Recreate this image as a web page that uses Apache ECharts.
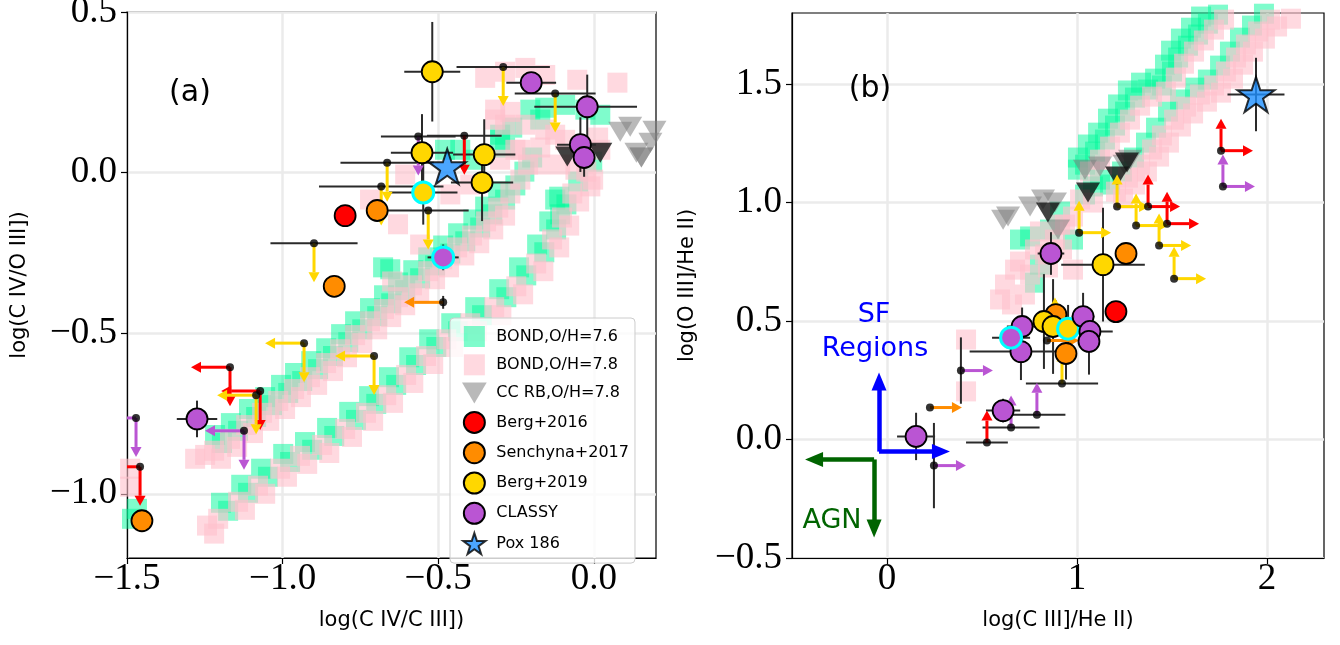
<!DOCTYPE html>
<html><head><meta charset="utf-8">
<script src="https://cdn.jsdelivr.net/npm/echarts@6/dist/echarts.min.js"></script>
<style>html,body{margin:0;padding:0;background:#fff}#c{width:1340px;height:645px}</style>
</head><body><div id="c"></div>
<script>
// ================= DATA =================
// ---- Panel (a): x = log(C IV/C III]), y = log(C IV/O III]) ----
const bond76A = [[-1.468,-1.047],[-1.484,-1.078],
 [-1.195,-0.842],[-1.143,-0.804],[-1.085,-0.761],[-1.034,-0.724],[-0.982,-0.686],[-0.937,-0.649],[-0.886,-0.612],[-0.838,-0.571],[-0.789,-0.528],[-0.744,-0.488],[-0.696,-0.447],[-0.651,-0.407],[-0.606,-0.366],[-0.558,-0.329],[-0.510,-0.289],[-0.461,-0.252],[-0.413,-0.214],[-0.365,-0.171],[-0.326,-0.130],[-0.285,-0.084],[-0.252,-0.040],[-0.223,0.003],[-0.198,0.047],[-0.301,0.102],[-0.262,0.140],[-0.429,0.071],[-0.478,0.071],[-0.204,0.196],[-0.156,0.202],[-0.092,0.211],[-0.027,0.196],[0.021,0.180],
 [-1.217,-0.817],[-1.166,-0.780],[-1.108,-0.736],[-1.056,-0.699],[-1.005,-0.661],[-0.960,-0.624],[-0.908,-0.587],[-0.860,-0.547],[-0.812,-0.503],[-0.767,-0.463],[-0.719,-0.422],[-0.674,-0.382],[-0.629,-0.342],[-0.580,-0.304],[-0.532,-0.264],[-0.484,-0.227],[-0.436,-0.189],[-0.387,-0.146],[-0.349,-0.106],[-0.307,-0.059],
 [-1.175,-1.053],[-1.111,-0.997],[-1.047,-0.947],[-0.976,-0.901],[-0.905,-0.863],[-0.834,-0.820],[-0.764,-0.770],[-0.699,-0.720],[-0.635,-0.661],[-0.571,-0.599],[-0.506,-0.543],[-0.436,-0.494],[-0.359,-0.444],[-0.281,-0.388],[-0.217,-0.320],[-0.159,-0.248],[-0.121,-0.177],[-0.088,-0.099],[-0.050,-0.028],[-0.005,0.034],
 [-1.198,-1.028],[-1.133,-0.972],[-1.069,-0.922],[-0.998,-0.876],[-0.928,-0.839],[-0.857,-0.795],[-0.786,-0.745],[-0.722,-0.696],[-0.658,-0.637],[-0.593,-0.575],[-0.529,-0.519],[-0.458,-0.469],[-0.381,-0.419],[-0.304,-0.363],[-0.240,-0.295],[-0.182,-0.224],[-0.143,-0.152],[-0.111,-0.075],
 [-0.677,-0.295],[-0.654,-0.301],[-0.301,0.118],[-0.285,0.078],[-0.124,-0.084],[-0.108,-0.130],[-0.381,0.040],[-0.172,0.165]];
const bond78A = [[-1.490,-0.922],[-1.490,-0.978],[-1.281,-0.891],[-1.249,-0.879],
 [-1.220,-0.866],[-1.169,-0.829],[-1.117,-0.786],[-1.066,-0.748],[-1.014,-0.711],[-0.963,-0.674],[-0.912,-0.637],[-0.860,-0.593],[-0.815,-0.550],[-0.767,-0.506],[-0.719,-0.463],[-0.674,-0.425],[-0.629,-0.388],[-0.584,-0.351],[-0.532,-0.307],[-0.487,-0.270],[-0.439,-0.233],[-0.391,-0.196],[-0.346,-0.152],[-0.307,-0.109],[-0.268,-0.065],[-0.236,-0.022],[-0.211,0.025],[-0.236,0.071],[-0.285,0.149],[-0.317,0.196],[-0.349,0.295],[-0.285,0.314],[-0.220,0.326],[-0.156,0.304],[-0.053,0.289],[0.076,0.280],[-0.124,0.118],[-0.172,0.078],
 [-1.198,-0.891],[-1.146,-0.854],[-1.095,-0.811],[-1.043,-0.773],[-0.992,-0.736],[-0.941,-0.699],[-0.889,-0.661],[-0.838,-0.618],[-0.793,-0.575],[-0.744,-0.531],[-0.696,-0.488],[-0.651,-0.450],[-0.606,-0.413],[-0.561,-0.376],[-0.510,-0.332],[-0.465,-0.295],[-0.416,-0.258],[-0.368,-0.220],[-0.323,-0.177],[-0.285,-0.134],
 [-1.243,-1.099],[-1.207,-1.078],[-1.143,-1.025],[-1.079,-0.975],[-1.008,-0.922],[-0.944,-0.882],[-0.873,-0.848],[-0.799,-0.798],[-0.732,-0.748],[-0.667,-0.693],[-0.603,-0.630],[-0.539,-0.571],[-0.474,-0.519],[-0.397,-0.469],[-0.320,-0.419],[-0.249,-0.354],[-0.185,-0.283],[-0.134,-0.208],[-0.102,-0.140],[-0.069,-0.065],[-0.024,0.003],[0.021,0.071],[0.014,0.109],
 [-1.220,-1.124],[-1.121,-1.050],[-1.056,-1.000],[-0.986,-0.947],[-0.921,-0.907],[-0.850,-0.873],[-0.777,-0.823],[-0.709,-0.773],[-0.645,-0.717],[-0.580,-0.655],[-0.516,-0.596],[-0.452,-0.543],[-0.375,-0.494],[-0.297,-0.444],[-0.227,-0.379],[-0.162,-0.307],[-0.111,-0.233],[-0.079,-0.165],[-0.047,-0.090],[-0.002,-0.022],
 [-0.719,-0.084],[-0.629,-0.161],[-0.648,-0.339],[-0.558,-0.224],[-0.461,-0.068],[-0.397,-0.037],[-0.011,-0.043],[-0.606,-0.006],
 [-0.317,0.165],[-0.268,0.189],[-0.220,0.149],[-0.156,0.134],[-0.092,0.102],[-0.043,0.071],[-0.301,0.040],[-0.252,0.071],[-0.108,0.025],[-0.059,0.009],[-0.172,0.025]];
const ccrbA = [[0.085,0.127],[0.117,0.143],[0.153,0.047],[0.153,0.047],[0.182,0.093],[0.137,0.062],[0.195,0.130]];
const ccrbDarkA = [[-0.085,0.050],[0.021,0.062]];
// observations: [x, y, xErrLo, xErrHi, yErrLo, yErrHi]
const berg16A = [[-0.799,-0.134,0,0,0,0]];
const sen17A = [[-0.696,-0.118,0,0,0,0],[-0.834,-0.354,0,0,0,0],[-1.452,-1.084,0,0,0,0]];
const berg19A = [[-0.519,0.314,0.09,0.09,0.155,0.155],[-0.552,0.062,0.1,0.1,0.12,0.12],[-0.352,0.056,0.1,0.1,0.11,0.11],[-0.359,-0.031,0.1,0.1,0.12,0.12]];
const berg19CyanA = [[-0.548,-0.062,0.11,0.11,0.1,0.1]];
const classyA = [[-0.201,0.280,0.08,0.08,0,0],[-0.021,0.205,0.17,0.16,0.1,0.1],[-0.043,0.087,0.075,0.05,0.085,0.085],[-0.031,0.047,0.03,0.03,0.06,0.06],[-1.275,-0.767,0.065,0.065,0.057,0.057]];
const classyCyanA = [[-0.484,-0.264,0.05,0.05,0.04,0.04]];
const pox186A = [[-0.471,0.019,0,0,0,0]];
// limits: [x, y, xErrLo, xErrHi, yErrLo, yErrHi, arrowDirX, arrowDirY]
const berg16LimA = [[-0.416,0.115,0.12,0.12,0,0,0,-1],[-1.169,-0.606,0,0,0,0,-1,-1],[-1.072,-0.680,0,0,0,0,-1,-1],[-1.458,-0.916,0,0,0,0,-1,-1]];
const sen17LimA = [[-0.484,-0.404,0,0,0.02,0.02,-1,0]];
const berg19LimA = [[-0.899,-0.220,0.14,0.14,0,0,0,-1],[-0.664,0.031,0.15,0.15,0,0,0,-1],[-0.683,-0.043,0.2,0.2,0,0,0,-1],[-0.532,-0.118,0.13,0.13,0,0,0,-1],[-0.291,0.329,0.15,0.15,0,0,0,-1],[-0.124,0.246,0.13,0.13,0,0,0,-1],[-0.931,-0.531,0,0,0,0,-1,-1],[-0.706,-0.571,0,0,0,0,-1,-1],[-1.085,-0.693,0,0,0,0,-1,-1]];
const classyLimA = [[-0.564,0.112,0.12,0.12,0,0,0,-1],[-1.124,-0.804,0,0,0,0,-1,-1],[-1.471,-0.764,0,0,0,0,-1,-1]];

// ---- Panel (b): x = log(C III]/He II), y = log(O III]/He II) ----
const bond76B = [[1.042,1.160],[1.095,1.215],[1.147,1.266],[1.200,1.325],[1.253,1.384],[1.305,1.443],[1.374,1.477],[1.447,1.494],[1.500,1.553],[1.532,1.612],[1.584,1.662],[1.637,1.709],[1.689,1.755],[1.742,1.793],
 [1.005,1.190],[1.058,1.245],[1.111,1.295],[1.163,1.354],[1.216,1.414],[1.268,1.473],[1.337,1.506],[1.411,1.523],[1.463,1.582],[1.495,1.641],[1.547,1.692],[1.600,1.738],[1.653,1.785],
 [1.174,1.076],[1.237,1.131],[1.300,1.190],[1.363,1.253],[1.416,1.316],[1.479,1.384],[1.542,1.435],[1.621,1.485],[1.689,1.519],[1.753,1.578],[1.805,1.637],[1.858,1.696],[1.921,1.747],[1.984,1.797],
 [0.753,0.857],[0.779,0.662],[0.979,0.844],[1.084,1.068],[0.700,0.844],[1.005,1.139],
 [0.805,0.738],[0.858,0.886],[0.911,0.962],[1.042,1.034],[1.121,1.097]];
const bond78B = [[1.068,1.131],[1.121,1.181],[1.174,1.236],[1.226,1.295],[1.279,1.350],[1.332,1.409],[1.395,1.447],[1.468,1.468],[1.521,1.527],[1.563,1.586],[1.616,1.637],[1.668,1.684],[1.721,1.730],[1.774,1.772],[1.816,1.806],
 [1.205,1.046],[1.268,1.105],[1.332,1.160],[1.395,1.224],[1.447,1.283],[1.511,1.350],[1.574,1.405],[1.647,1.456],[1.721,1.494],[1.784,1.553],[1.837,1.612],[1.889,1.667],[1.953,1.722],[2.016,1.772],[2.089,1.806],
 [1.242,1.017],[1.305,1.076],[1.368,1.131],[1.432,1.194],[1.484,1.253],[1.547,1.321],[1.611,1.376],[1.684,1.426],[1.758,1.464],[1.821,1.523],[1.874,1.582],[1.926,1.637],[1.989,1.692],[2.053,1.743],[2.126,1.776],
 [0.416,0.203],[0.416,0.422],[0.658,0.570],[0.726,0.612],[0.700,0.751],[0.779,0.802],[0.805,0.878],[0.921,0.802],[0.979,0.717],[0.979,0.941],[1.084,1.000],[0.847,0.726],[0.911,0.907],
 [0.621,0.654],[0.674,0.717],[0.753,0.696],[0.832,0.781],[0.884,0.844],[0.937,0.907],[1.016,1.013],[0.595,0.591]];
const ccrbB = [[0.611,0.928],[0.637,0.941],[0.753,0.983],[0.821,1.013],[0.900,0.886],[1.042,1.139],[1.121,1.152],[1.279,1.181],[0.884,1.000],[1.250,1.160]];
const ccrbDarkB = [[0.847,0.958],[1.058,1.042],[1.211,1.110],[1.263,1.169]];
const berg16B = [[1.205,0.540,0,0,0,0]];
const sen17B = [[1.258,0.785,0,0,0,0],[0.889,0.527,0,0,0.06,0.06],[0.942,0.363,0.05,0.05,0.11,0.11]];
const berg19B = [[1.137,0.738,0.22,0.22,0.24,0.24],[0.826,0.498,0.05,0.05,0.2,0.2],[0.874,0.477,0.05,0.05,0.2,0.2]];
const berg19CyanB = [[0.953,0.468,0.05,0.05,0.1,0.1]];
const classyB = [[0.153,0.013,0.1,0.1,0.1,0.1],[0.863,0.785,0.07,0.07,0.09,0.09],[0.711,0.477,0.08,0.08,0.08,0.08],[0.705,0.371,0.27,0.27,0.12,0.12],[1.032,0.519,0.06,0.06,0.1,0.1],[1.068,0.456,0.12,0.12,0.06,0.06],[1.063,0.414,0.05,0.05,0.14,0.14],[0.611,0.122,0.09,0.09,0.05,0.05]];
const classyCyanB = [[0.653,0.430,0.1,0.1,0,0]];
const pox186B = [[1.942,1.456,0.15,0.15,0.155,0.155]];
const berg16LimB = [[1.758,1.219,0,0,0,0,1,1],[1.374,0.983,0,0,0,0,1,1],[1.474,0.911,0,0,0,0,1,1],[0.526,-0.013,0.11,0.11,0,0,0,1]];
const sen17LimB = [[0.226,0.135,0,0,0,0,1,0],[0.842,0.418,0,0,0,0,1,0]];
const berg19LimB = [[1.211,0.983,0,0,0,0,1,1],[1.311,0.903,0,0,0,0,1,1],[1.432,0.819,0,0,0,0,1,1],[1.511,0.679,0,0,0,0,1,1],[1.011,0.873,0,0,0,0,1,1],[0.921,0.236,0.19,0.19,0,0,0,1],[0.884,0.464,0,0,0,0,0,1]];
const classyLimB = [[1.768,1.068,0,0,0,0,1,1],[0.389,0.291,0,0,0.14,0.14,1,0],[0.247,-0.110,0,0,0.18,0.18,1,0],[0.653,0.051,0.15,0.15,0,0,0,1],[0.789,0.105,0.15,0.15,0,0,0,1]];
// SF / AGN indicator arrows (data coords): [x1,y1,x2,y2]
const sfArrows = [[-0.042,-0.051,-0.042,0.245],[-0.042,-0.051,0.284,-0.051]];
const agnArrows = [[-0.068,-0.084,-0.384,-0.084],[-0.068,-0.084,-0.068,-0.376]];

// ticks
const ticksAX = [-1.5,-1.0,-0.5,0.0];
const ticksAY = [-1.0,-0.5,0.0,0.5];
const ticksBX = [0,1,2];
const ticksBY = [-0.5,0.0,0.5,1.0,1.5];
const legendNames = ['BOND,O/H=7.6','BOND,O/H=7.8','CC RB,O/H=7.8','Berg+2016','Senchyna+2017','Berg+2019','CLASSY','Pox 186'];

// ================= STYLE / BUILD =================
const RED='#ff0000', ORANGE='#ff8c00', GOLD='#ffd700', PURPLE='#ba55d3', STARC='#1e90ff', CYAN='#00ffff';
const SQUARE='path://M0,0H10V10H0Z';
const TRI_DOWN='path://M0,0H20L10,17Z';
const STAR='path://M50,0L61.2,34.5H97.6L68.2,55.9L79.4,90.5L50,69.1L20.6,90.5L31.8,55.9L2.4,34.5H38.8Z';

function errItem(params, api){
  const x=api.value(0), y=api.value(1);
  const xl=api.value(2), xh=api.value(3), yl=api.value(4), yh=api.value(5);
  const st={stroke:'#2a2a2a', lineWidth:2};
  const ch=[];
  if(xl>0||xh>0){const a=api.coord([x-xl,y]), b=api.coord([x+xh,y]); ch.push({type:'line',shape:{x1:a[0],y1:a[1],x2:b[0],y2:b[1]},style:st});}
  if(yl>0||yh>0){const a=api.coord([x,y-yl]), b=api.coord([x,y+yh]); ch.push({type:'line',shape:{x1:a[0],y1:a[1],x2:b[0],y2:b[1]},style:st});}
  return {type:'group',children:ch};
}
function arrowItem(color, len){
  return function(params, api){
    const p=api.coord([api.value(0),api.value(1)]);
    const dx=api.value(6), dy=api.value(7);
    const ch=[];
    [[dx,0],[0,-dy]].forEach(function(v){
      const vx=v[0], vy=v[1];
      if(!vx && !vy) return;
      const ex=p[0]+vx*len, ey=p[1]+vy*len, hl=10, hw=5.5;
      const bx=ex-vx*hl, by=ey-vy*hl;
      ch.push({type:'line',shape:{x1:p[0],y1:p[1],x2:bx,y2:by},style:{stroke:color,lineWidth:3}});
      ch.push({type:'polygon',shape:{points:[[ex,ey],[bx-vy*hw,by+vx*hw],[bx+vy*hw,by-vx*hw]]},style:{fill:color}});
    });
    return {type:'group',children:ch};
  };
}
const xy = arr => arr.map(r=>[r[0],r[1]]);
const S=[];
function buildPanel(gi, d, alen){
  const ax={xAxisIndex:gi,yAxisIndex:gi};
  S.push({type:'scatter',name:'BOND,O/H=7.6',...ax,data:d.b76,symbol:SQUARE,symbolSize:20,itemStyle:{color:'#00fa9a',opacity:0.5},z:1,silent:true});
  S.push({type:'scatter',name:'BOND,O/H=7.8',...ax,data:d.b78,symbol:SQUARE,symbolSize:20,itemStyle:{color:'#ffc0cb',opacity:0.6},z:1,silent:true});
  S.push({type:'scatter',name:'CC RB,O/H=7.8',...ax,data:d.cc,symbol:TRI_DOWN,symbolSize:[24,20],itemStyle:{color:'#808080',opacity:0.55},z:2,silent:true});
  S.push({type:'scatter',name:'CC RB,O/H=7.8',...ax,data:d.ccd,symbol:TRI_DOWN,symbolSize:[24,20],itemStyle:{color:'#111111',opacity:0.8},z:2,silent:true});
  const lims=[[d.b16L,RED],[d.s17L,ORANGE],[d.b19L,GOLD],[d.clL,PURPLE]];
  const errData=[].concat(d.b16,d.s17,d.b19,d.b19c,d.cl,d.clc,d.pox,d.b16L,d.s17L,d.b19L,d.clL).map(r=>r.slice(0,6));
  S.push({type:'custom',name:'_err',...ax,data:errData,renderItem:errItem,z:3,clip:true,silent:true});
  lims.forEach(function(l){S.push({type:'custom',name:'_lim',...ax,data:l[0],renderItem:arrowItem(l[1],alen),z:4,clip:true,silent:true});});
  S.push({type:'scatter',name:'_dot',...ax,data:xy([].concat(d.b16L,d.s17L,d.b19L,d.clL)),symbolSize:8,itemStyle:{color:'#000'},z:5,silent:true});
  const circ=(name,arr,col,edge,bw)=>S.push({type:'scatter',name,...ax,data:xy(arr),symbol:'circle',symbolSize:21,itemStyle:{color:col,borderColor:edge,borderWidth:bw,opacity:1},z:6,silent:true});
  circ('Berg+2016',d.b16,RED,'#000',1.8);
  circ('Senchyna+2017',d.s17,ORANGE,'#000',1.8);
  circ('Berg+2019',d.b19,GOLD,'#000',1.8);
  circ('Berg+2019',d.b19c,GOLD,CYAN,3);
  circ('CLASSY',d.cl,PURPLE,'#000',1.8);
  circ('CLASSY',d.clc,PURPLE,CYAN,3);
  S.push({type:'scatter',name:'Pox 186',...ax,data:xy(d.pox),symbol:STAR,symbolSize:37,symbolKeepAspect:true,itemStyle:{color:STARC,borderColor:'#000',borderWidth:2},z:7,silent:true});
}
buildPanel(0,{b76:bond76A,b78:bond78A,cc:ccrbA,ccd:ccrbDarkA,b16:berg16A,s17:sen17A,b19:berg19A,b19c:berg19CyanA,cl:classyA,clc:classyCyanA,pox:pox186A,b16L:berg16LimA,s17L:sen17LimA,b19L:berg19LimA,clL:classyLimA},39);
buildPanel(1,{b76:bond76B,b78:bond78B,cc:ccrbB,ccd:ccrbDarkB,b16:berg16B,s17:sen17B,b19:berg19B,b19c:berg19CyanB,cl:classyB,clc:classyCyanB,pox:pox186B,b16L:berg16LimB,s17L:sen17LimB,b19L:berg19LimB,clL:classyLimB},32);

const ml=(a,c)=>[{coord:[a[0],a[1]],lineStyle:{color:c,width:4.5,type:'solid'},itemStyle:{color:c}},{coord:[a[2],a[3]]}];
S.push({type:'scatter',name:'_ann',xAxisIndex:1,yAxisIndex:1,data:[],z:8,
  markLine:{silent:true,animation:false,symbol:['none','triangle'],symbolSize:[15,18],label:{show:false},
    data:sfArrows.map(a=>ml(a,'#0000ff')).concat(agnArrows.map(a=>ml(a,'#006400')))}});

const minus = s => s.replace('-','\u2212');
const labelFont={fontFamily:'Liberation Serif',fontSize:37,color:'#000'};
const nameFont={fontFamily:'DejaVu Sans',fontSize:21,color:'#000'};
function axis(gi,min,max,ticks,fmt,name,gap,isX){
  return {gridIndex:gi,type:'value',min,max,
    axisLine:{show:true,onZero:false,lineStyle:{color:'#000',width:1.2}},
    axisTick:{show:true,inside:false,length:6,customValues:ticks,lineStyle:{color:'#000',width:1.2}},
    axisLabel:{customValues:ticks,formatter:v=>minus(fmt(v)),margin:isX?3:10,...labelFont},
    splitLine:{show:true,lineStyle:{color:'#ebebeb',width:2.5}},
    name,nameLocation:'middle',nameGap:gap,nameTextStyle:nameFont};
}
const f1=v=>v.toFixed(1), f0=v=>String(Math.round(v));
const option={
  animation:false,
  backgroundColor:'#fff',
  grid:[
    {left:127,top:12,width:529,height:546,show:true,borderColor:'#000',borderWidth:1.2,containLabel:false,outerBoundsMode:'none'},
    {left:792,top:13,width:532,height:545,show:true,borderColor:'#000',borderWidth:1.2,containLabel:false,outerBoundsMode:'none'}
  ],
  xAxis:[axis(0,-1.5,0.2,ticksAX,f1,'log(C IV/C III])',52,true), axis(1,-0.5,2.3,ticksBX,f0,'log(C III]/He II)',52,true)],
  yAxis:[axis(0,-1.2,0.5,ticksAY,f1,'log(C IV/O III])',97,false), axis(1,-0.5,1.8,ticksBY,f1,'log(O III]/He II)',94,false)],
  legend:{data:legendNames,orient:'vertical',left:450,top:318,padding:[8,6,8,12],itemGap:7.3,itemWidth:34,itemHeight:21,
    symbolKeepAspect:true,backgroundColor:'rgba(255,255,255,0.8)',borderColor:'#cccccc',borderWidth:1,borderRadius:4,
    textStyle:{fontFamily:'DejaVu Sans',fontSize:16,color:'#000'},selectedMode:false},
  graphic:[
    {type:'text',x:190,y:93,z:20,style:{text:'(a)',font:'30px "DejaVu Sans"',fill:'#000',align:'center',verticalAlign:'middle',textAlign:'center',textVerticalAlign:'middle'}},
    {type:'text',x:870,y:89,z:20,style:{text:'(b)',font:'30px "DejaVu Sans"',fill:'#000',align:'center',verticalAlign:'middle',textAlign:'center',textVerticalAlign:'middle'}},
    {type:'text',x:874,y:315,z:20,style:{text:'SF',font:'27px "DejaVu Sans"',fill:'#0000ff',align:'center',verticalAlign:'middle',textAlign:'center',textVerticalAlign:'middle'}},
    {type:'text',x:875,y:349,z:20,style:{text:'Regions',font:'27px "DejaVu Sans"',fill:'#0000ff',align:'center',verticalAlign:'middle',textAlign:'center',textVerticalAlign:'middle'}},
    {type:'text',x:832,y:521,z:20,style:{text:'AGN',font:'27px "DejaVu Sans"',fill:'#006400',align:'center',verticalAlign:'middle',textAlign:'center',textVerticalAlign:'middle'}}
  ],
  series:S
};
const chart=echarts.init(document.getElementById('c'),null,{renderer:'canvas'});
chart.setOption(option);
</script>
</body></html>
